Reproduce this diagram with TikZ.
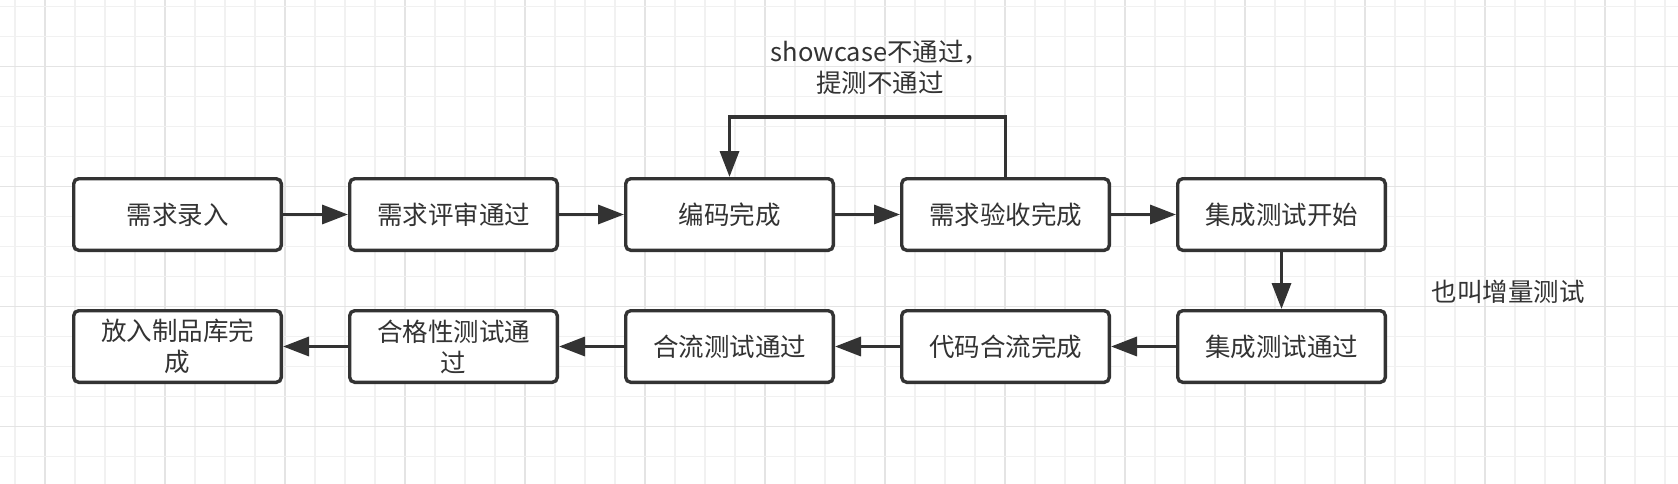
\documentclass[tikz,border=0pt]{standalone}
\usepackage{fontspec}
\setmainfont{Noto Sans CJK SC}
\usetikzlibrary{arrows.meta}
\definecolor{ink}{HTML}{333333}
\definecolor{gridminor}{HTML}{F1F1F1}
\definecolor{gridmajor}{HTML}{E4E4E4}
\begin{document}
\begin{tikzpicture}[x=1pt,y=-1pt,
  stepbox/.style={draw=ink, line width=3.4pt, rounded corners=5pt, fill=white,
    minimum width=207.6pt, minimum height=71.6pt, inner sep=0pt, text=ink,
    font=\fontsize{25.5}{31}\selectfont, align=center},
  lbl/.style={text=ink, font=\fontsize{25.5}{31}\selectfont, align=center, inner sep=0pt},
  flow/.style={draw=ink, line width=3.4pt, -{Triangle[length=26pt,width=19pt]}}]
\useasboundingbox (0,0) rectangle (1678,484);
\fill[white] (0,0) rectangle (1678,484);
% grid
\foreach \k in {0,...,55}{
  \pgfmathtruncatemacro{\m}{mod(\k+3,4)}
  \ifnum\m=0
    \draw[gridmajor, line width=1.5pt] ({15+30*\k},0) -- ({15+30*\k},484);
  \else
    \draw[gridminor, line width=1.2pt] ({15+30*\k},0) -- ({15+30*\k},484);
  \fi
}
\foreach \k in {0,...,15}{
  \pgfmathtruncatemacro{\m}{mod(\k+2,4)}
  \ifnum\m=0
    \draw[gridmajor, line width=1.5pt] (0,{6.7+30*\k}) -- (1678,{6.7+30*\k});
  \else
    \draw[gridminor, line width=1.2pt] (0,{6.7+30*\k}) -- (1678,{6.7+30*\k});
  \fi
}
% nodes
\node[stepbox] (a1) at (177.5,214.5) {需求录入};
\node[stepbox] (a2) at (453.5,214.5) {需求评审通过};
\node[stepbox] (a3) at (729.5,214.5) {编码完成};
\node[stepbox] (a4) at (1005.5,214.5) {需求验收完成};
\node[stepbox] (a5) at (1281.5,214.5) {集成测试开始};
\node[stepbox] (b5) at (1281.5,346.5) {集成测试通过};
\node[stepbox] (b4) at (1005.5,346.5) {代码合流完成};
\node[stepbox] (b3) at (729.5,346.5) {合流测试通过};
\node[stepbox] (b2) at (453.5,346.5) {合格性测试通\\过};
\node[stepbox] (b1) at (177.5,346.5) {放入制品库完\\成};
\node[lbl] (fb) at (880,67) {showcase不通过，\\提测不通过};
\node[lbl] (note) at (1508,292) {也叫增量测试};
\coordinate (looptop) at (867,117);
% connectors
\draw[flow] (a1) -- (a2);
\draw[flow] (a2) -- (a3);
\draw[flow] (a3) -- (a4);
\draw[flow] (a4) -- (a5);
\draw[flow] (a5) -- (b5);
\draw[flow] (b5) -- (b4);
\draw[flow] (b4) -- (b3);
\draw[flow] (b3) -- (b2);
\draw[flow] (b2) -- (b1);
\draw[flow] (a4.north) |- (looptop) -| (a3.north);
\end{tikzpicture}
\end{document}
